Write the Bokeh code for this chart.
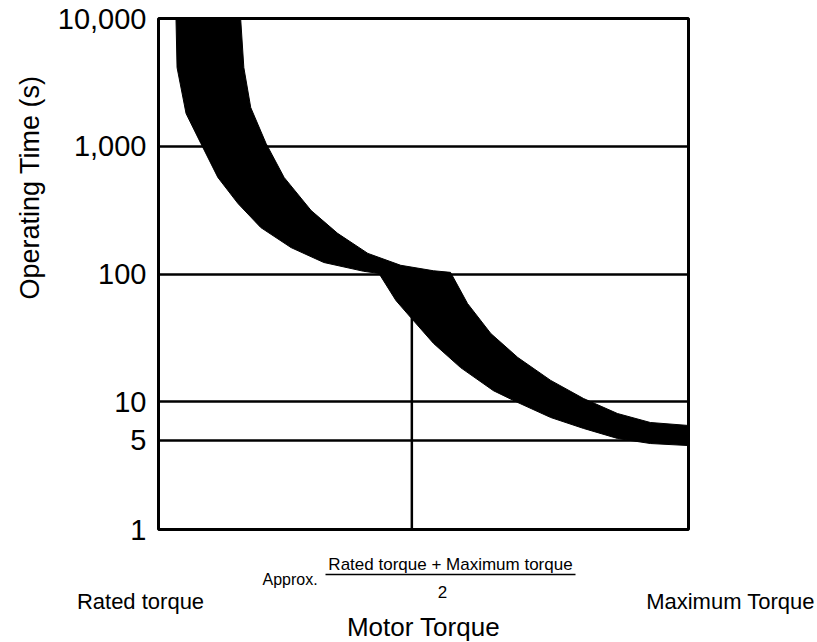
from bokeh.plotting import figure
from bokeh.models import Range1d, FixedTicker, NumeralTickFormatter, Title
from bokeh.layouts import column
from bokeh.core.properties import value
from bokeh.embed import file_html
from bokeh.resources import INLINE

# Motor torque as % between rated (0) and maximum (100)
upper_x = [15.5, 16.1, 17.4, 20.3, 23.7, 28.8, 33.8, 39.5, 45.7, 51.9, 55.1,
           58.3, 62.7, 67.8, 74.0, 80.2, 86.6, 92.8, 100.0]
upper_t = [10000, 4130, 2010, 1050, 570, 314, 208, 145, 117, 106, 103,
           58.8, 34.2, 22.2, 14.7, 10.6, 8.09, 6.88, 6.52]
lower_x = [3.3, 3.5, 5.2, 8.0, 11.2, 15.0, 19.3, 25.0, 31.2, 38.7, 41.6,
           44.8, 47.6, 51.9, 57.0, 63.2, 67.8, 74.0, 80.2, 86.6, 92.8, 100.0]
lower_t = [10000, 4130, 1805, 1050, 570, 356, 231, 161, 123, 105, 101,
           62, 45.6, 28.6, 18.5, 12.2, 9.86, 7.53, 6.18, 5.16, 4.71, 4.54]
mid_x = [47.8]
mid_t = [1, 60]
y_ticks = [1, 5, 10, 100, 1000, 10000]

FONT = "Liberation Sans"
W = 817

p = figure(width=W, height=550, y_axis_type="log",
           x_range=Range1d(0, 100), y_range=Range1d(1, 10000),
           output_backend="svg", toolbar_location=None,
           min_border_left=158, min_border_right=W - 688,
           min_border_top=18, min_border_bottom=21)
p.frame_align = False

p.background_fill_color = "white"
p.border_fill_color = "white"
p.outline_line_color = "black"
p.outline_line_width = 3
p.outline_line_alpha = 1

p.xaxis.visible = False
p.xgrid.visible = False

ax = p.yaxis[0]
ax.ticker = FixedTicker(ticks=y_ticks)
ax.formatter = NumeralTickFormatter(format="0,0")
ax.axis_line_color = None
ax.major_tick_line_color = None
ax.minor_tick_line_color = None
ax.major_tick_out = 0
ax.major_tick_in = 0
ax.minor_tick_out = 0
ax.minor_tick_in = 0
ax.major_label_standoff = 12
ax.major_label_text_font = FONT
ax.major_label_text_font_size = "29px"
ax.major_label_text_color = "black"

p.add_layout(Title(text="Operating Time (s)", align="right", offset=57,
                   text_font=FONT, text_font_size="27px",
                   text_font_style="normal", text_color="black",
                   standoff=19), "left")

p.ygrid.grid_line_color = "black"
p.ygrid.grid_line_width = 2.5
p.ygrid.grid_line_alpha = 1
p.ygrid.minor_grid_line_color = None

# vertical line at approx. midpoint torque
p.line(x=[mid_x[0], mid_x[0]], y=mid_t, line_color="black", line_width=2.5)

# operating band
band_x = upper_x + lower_x[::-1]
band_t = upper_t + lower_t[::-1]
p.patch(band_x, band_t, fill_color="black", line_color="black", line_width=1)

# lower text panel (page pixel coordinates, y downward)
q = figure(width=W, height=92, x_range=Range1d(0, W), y_range=Range1d(642, 550),
           output_backend="svg", toolbar_location=None,
           min_border_left=0, min_border_right=0,
           min_border_top=0, min_border_bottom=0)
q.frame_align = False
q.axis.visible = False
q.grid.visible = False
q.outline_line_color = None
q.background_fill_color = "white"
q.border_fill_color = "white"

def txt(text, x, y, size, align="center"):
    q.text(x=[x], y=[y], text=[text], text_font=value(FONT),
           text_font_size=size, text_color="black",
           text_align=align, text_baseline="alphabetic")

txt("Rated torque", 140, 601, "22px")
txt("Maximum Torque", 730, 601, "22px")
txt("Motor Torque", 423, 626, "26px")
txt("Approx.", 262, 579, "16px", align="left")
txt("Rated torque + Maximum torque", 450, 564, "17px")
txt("2", 442, 591, "17px")
q.line(x=[325, 575], y=[574, 574], line_color="black", line_width=1.5)

layout = column(p, q, spacing=0)
open("out.html", "w").write(file_html(layout, INLINE))
